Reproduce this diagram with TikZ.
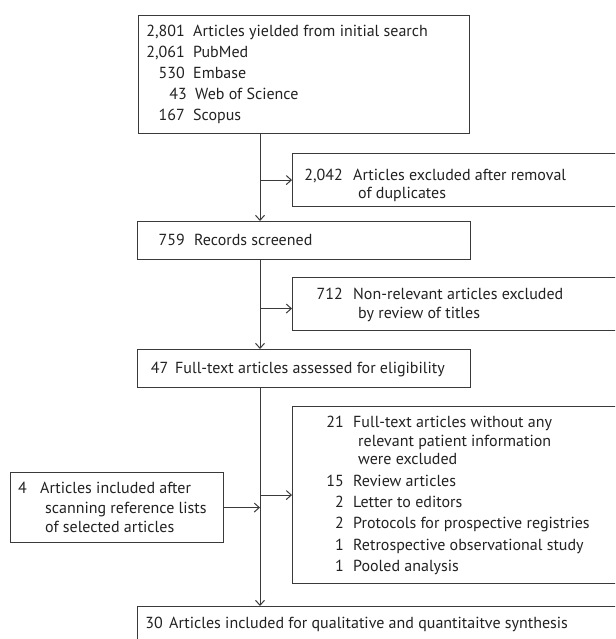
\documentclass[tikz,border=0pt]{standalone}
\usepackage{fontspec}
\setmainfont{PT Sans}
\usetikzlibrary{arrows.meta}
\definecolor{linegray}{HTML}{3A3A3A}
\definecolor{textgray}{HTML}{222222}
\newcommand\PLine[6]{%
  \node[numtxt] (#1n) at (#2,#4) {#5};
  \node[linetxt] (#1t) at (#3,#4) {#6};}
\newcommand\CLine[4]{%
  \node[linetxt] (#1) at (#2,#3) {#4};}
\begin{document}
\begin{tikzpicture}[x=1pt,y=-1pt,
  box/.style={draw=linegray, line width=1.1pt, anchor=north west, inner sep=0pt, fill=white},
  numtxt/.style={anchor=base east, inner sep=0pt, text=textgray, font=\fontsize{16pt}{19pt}\selectfont},
  linetxt/.style={anchor=base west, inner sep=0pt, text=textgray, font=\fontsize{16pt}{19pt}\selectfont},
  arr/.style={draw=linegray, line width=1pt, -{Straight Barb[length=5pt,width=9pt,line width=1pt]}}]
\useasboundingbox (0,0) rectangle (615,639);
\clip (0,0) rectangle (615,639);
\fill[white] (0,0) rectangle (615,639);
\coordinate (sp) at (260,0);
% boxes
\node[box, minimum width=331pt, minimum height=118pt] (top) at (138,15) {};
\node[box, minimum width=340pt, minimum height=53pt] (ex1) at (292,153) {};
\node[box, minimum width=333pt, minimum height=38pt] (rec) at (137,221) {};
\node[box, minimum width=340pt, minimum height=53pt] (ex2) at (292,277) {};
\node[box, minimum width=333pt, minimum height=38pt] (full) at (137,349) {};
\node[box, minimum width=340pt, minimum height=177pt] (ex3) at (292,406) {};
\node[box, minimum width=213pt, minimum height=70pt] (inc) at (10,472) {};
\node[box, minimum width=500pt, minimum height=60pt] (fin) at (137,606) {};
% connectors
\draw[arr] (top.south -| sp) -- (rec.north -| sp);
\draw[arr] (rec.south -| sp) -- (full.north -| sp);
\draw[arr] (full.south -| sp) -- (fin.north -| sp);
\draw[arr] (ex1.west -| sp) -- (ex1.west);
\draw[arr] ([yshift=-4.5pt]ex2.west -| sp) -- ([yshift=-4.5pt]ex2.west);
\draw[arr] (ex3.west -| sp) -- (ex3.west);
\draw[arr] (inc.east) -- (inc.east -| sp);
% texts
\PLine{a1}{185}{193}{37}{2,801}{Articles yielded from initial search}
\PLine{a2}{185}{193}{58}{2,061}{PubMed}
\PLine{a3}{185}{193}{79}{530}{Embase}
\PLine{a4}{187}{195}{100}{43}{Web of Science}
\PLine{a5}{185}{193}{121}{167}{Scopus}
\PLine{b1}{343}{353}{180}{2,042}{Articles excluded after removal}
\CLine{b2}{358}{198}{of duplicates}
\PLine{c1}{185}{194}{245}{759}{Records screened}
\PLine{d1}{343}{353}{299}{712}{Non-relevant articles excluded}
\CLine{d2}{358}{318}{by review of titles}
\PLine{e1}{168.5}{175}{373}{47}{Full-text articles assessed for eligibility}
\PLine{f1}{344}{353}{427}{21}{Full-text articles without any}
\CLine{f2}{358}{446}{relevant patient information}
\CLine{f3}{358}{464}{were excluded}
\PLine{f4}{344}{353}{486}{15}{Review articles}
\PLine{f5}{344}{353}{507}{2}{Letter to editors}
\PLine{f6}{344}{353}{528}{2}{Protocols for prospective registries}
\PLine{f7}{344}{353}{550}{1}{Retrospective observational study}
\PLine{f8}{344}{353}{571}{1}{Pooled analysis}
\PLine{g1}{27}{40}{493}{4}{Articles included after}
\CLine{g2}{45}{513}{scanning reference lists}
\CLine{g3}{45}{532}{of selected articles}
\PLine{h1}{163}{169}{628}{30}{Articles included for qualitative and quantitaitve synthesis}
\end{tikzpicture}
\end{document}
